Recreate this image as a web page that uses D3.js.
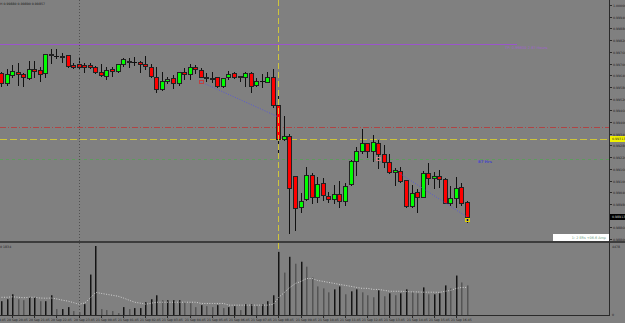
<!DOCTYPE html>
<html>
<head>
<meta charset="utf-8">
<script src="https://cdn.jsdelivr.net/npm/d3@7.9.0/dist/d3.min.js"></script>
<style>
  body { margin: 0; background: #808080; }
  svg { display: block; }
  text { font-family: "DejaVu Sans", sans-serif; }
</style>
</head>
<body>
<svg id="chart" width="625" height="323"></svg>
<script>
// M15 candles, 20 Sep 20:15 .. 21 Sep 17:15
const opens = [0.99652,0.99600,0.99641,0.99657,0.99647,0.99626,0.99672,0.99667,0.99652,0.99749,
  0.99739,0.99734,0.99744,0.99693,0.99698,0.99693,0.99693,0.99682,0.99657,0.99636,
  0.99672,0.99662,0.99698,0.99713,0.99708,0.99708,0.99698,0.99682,0.99631,0.99570,
  0.99611,0.99626,0.99600,0.99657,0.99647,0.99682,0.99667,0.99631,0.99626,0.99631,
  0.99585,0.99631,0.99652,0.99631,0.99631,0.99652,0.99590,0.99611,0.99606,0.99631,
  0.99488,0.99313,0.99329,0.99123,0.98964,0.99005,0.99129,0.99016,0.99088,0.99021,
  0.99005,0.99031,0.98995,0.99082,0.99200,0.99252,0.99293,0.99252,0.99293,0.99236,
  0.99195,0.99144,0.99149,0.99103,0.98970,0.99041,0.99016,0.99139,0.99113,0.99123,
  0.99108,0.98985,0.99011,0.99067,0.98990];
const highs = [0.99657,0.99672,0.99693,0.99703,0.99652,0.99713,0.99713,0.99682,0.99749,0.99775,
  0.99775,0.99754,0.99744,0.99703,0.99729,0.99703,0.99703,0.99688,0.99698,0.99682,
  0.99682,0.99698,0.99729,0.99729,0.99734,0.99713,0.99739,0.99698,0.99682,0.99657,
  0.99631,0.99641,0.99657,0.99677,0.99698,0.99693,0.99677,0.99652,0.99657,0.99631,
  0.99626,0.99662,0.99657,0.99636,0.99657,0.99657,0.99626,0.99647,0.99657,0.99672,
  0.99534,0.99431,0.99339,0.99123,0.99036,0.99170,0.99139,0.99118,0.99113,0.99041,
  0.99077,0.99098,0.99088,0.99206,0.99272,0.99365,0.99293,0.99334,0.99308,0.99282,
  0.99236,0.99165,0.99170,0.99103,0.99077,0.99057,0.99149,0.99190,0.99144,0.99154,
  0.99113,0.99072,0.99118,0.99088,0.98995];
const lows = [0.99585,0.99590,0.99631,0.99590,0.99585,0.99621,0.99631,0.99611,0.99631,0.99703,
  0.99729,0.99708,0.99682,0.99677,0.99672,0.99657,0.99677,0.99652,0.99636,0.99621,
  0.99636,0.99657,0.99688,0.99682,0.99693,0.99657,0.99672,0.99631,0.99554,0.99565,
  0.99600,0.99575,0.99590,0.99621,0.99621,0.99652,0.99631,0.99611,0.99606,0.99580,
  0.99580,0.99621,0.99626,0.99611,0.99585,0.99554,0.99585,0.99580,0.99606,0.99477,
  0.99221,0.99308,0.98831,0.98847,0.98939,0.99000,0.98985,0.98990,0.99000,0.98990,
  0.98985,0.98964,0.98975,0.99077,0.99129,0.99241,0.99221,0.99200,0.99165,0.99170,
  0.99139,0.99077,0.99093,0.98964,0.98964,0.98939,0.99016,0.99082,0.99062,0.99067,
  0.98985,0.98975,0.98964,0.98975,0.98888];
const closes = [0.99600,0.99647,0.99662,0.99647,0.99631,0.99672,0.99662,0.99647,0.99749,0.99744,
  0.99739,0.99739,0.99688,0.99682,0.99682,0.99682,0.99682,0.99657,0.99641,0.99667,
  0.99662,0.99698,0.99723,0.99708,0.99708,0.99698,0.99688,0.99636,0.99570,0.99611,
  0.99621,0.99600,0.99657,0.99647,0.99682,0.99672,0.99631,0.99626,0.99621,0.99585,
  0.99626,0.99647,0.99631,0.99636,0.99652,0.99585,0.99611,0.99611,0.99631,0.99488,
  0.99313,0.99329,0.99062,0.98959,0.98995,0.99129,0.99016,0.99082,0.99026,0.99005,
  0.99031,0.98995,0.99072,0.99200,0.99252,0.99293,0.99252,0.99298,0.99236,0.99195,
  0.99144,0.99154,0.99098,0.98970,0.99036,0.99016,0.99139,0.99113,0.99123,0.99108,
  0.98985,0.99011,0.99062,0.98985,0.98913];
const volumes = [896,1024,1344,1024,960,1152,1152,896,896,1280,
  384,384,512,256,192,704,2624,4478,384,320,
  256,128,512,384,448,448,832,1024,1280,960,
  960,960,960,832,768,512,640,576,512,640,
  448,512,576,320,704,704,576,704,896,1280,
  4096,2752,3776,3328,3456,3136,2432,1856,1728,1472,
  1664,1856,1344,1536,1664,1472,1280,1152,1600,1216,
  1408,1280,1408,1664,1472,1408,1792,1344,1344,1408,
  1920,1728,2560,2112,1920];
const volumeAvg = [1150,1150,1180,1150,1120,1150,1150,1100,1090,1100,
  1040,960,900,800,700,780,1100,1470,1400,1340,
  1280,1220,1100,960,830,770,700,770,830,830,
  830,830,830,830,830,830,750,750,750,750,
  750,640,640,640,640,640,640,640,640,700,
  1150,1470,1790,2050,2180,2370,2370,2240,2180,2110,
  2050,1980,1920,1860,1790,1730,1730,1660,1660,1600,
  1540,1540,1540,1520,1500,1500,1480,1480,1480,1470,
  1540,1600,1730,1790,1790];

const priceTickLabels = ["1.00000","0.99940","0.99880","0.99820","0.99760","0.99700","0.99640",
  "0.99580","0.99520","0.99460","0.99400","0.99340","0.99280","0.99220","0.99160","0.99100",
  "0.99040","0.98980","0.98920","0.98860","0.98800"];
const timeLabelBars = [-2,2,6,10,14,18,22,26,30,34,38,42,46,50,54,58,62,66,70,74,78,82];
const timeLabels = ["20 Sep 19:45","20 Sep 20:45","20 Sep 21:45","20 Sep 22:45","20 Sep 23:45",
  "21 Sep 00:45","21 Sep 01:45","21 Sep 02:45","21 Sep 03:45","21 Sep 04:45","21 Sep 05:45",
  "21 Sep 06:45","21 Sep 07:45","21 Sep 08:45","21 Sep 09:45","21 Sep 10:45","21 Sep 11:45",
  "21 Sep 12:45","21 Sep 13:45","21 Sep 14:45","21 Sep 15:45","21 Sep 16:45"];

const tpLevel = 0.99800, redLevel = 0.99375, entryLevel = 0.99313, greenLevel = 0.99210;
const trendLines = [[36, 0.99606, 50, 0.99426], [72, 0.99134, 84, 0.98913]];
const markers = [[36, 0.99606, "#c04040"], [68, 0.99211, "#d08080"], [84, 0.98895, "#e0d000"]];
const dayLineBar = 14, entryBar = 50;

const svg = d3.select("#chart");
const axisX = 609, sepY = 242, volBottom = 315;
const x = d3.scaleLinear().domain([0, 84]).range([1, 467]);
const y = d3.scaleLinear().domain([0.98800, 1.00000]).range([239, 5]);
const yv = d3.scaleLinear().domain([0, 4478]).range([volBottom, 246]);
const px = i => Math.round(x(i));

svg.append("rect").attr("width", 625).attr("height", 323).attr("fill", "#808080");

svg.append("defs").append("clipPath").attr("id", "main")
  .append("rect").attr("width", axisX).attr("height", sepY);
const main = svg.append("g").attr("clip-path", "url(#main)");

// horizontal levels
const hline = (p, x2, color, dash) => main.append("line")
  .attr("x1", 0).attr("x2", x2)
  .attr("y1", Math.round(y(p)) + 0.5).attr("y2", Math.round(y(p)) + 0.5)
  .attr("stroke", color).attr("stroke-width", 1).attr("stroke-dasharray", dash);
hline(tpLevel, 517, "#9a55cc", null);
hline(redLevel, axisX, "#b04444", "6,2,1,2");
hline(entryLevel, axisX, "#cfc63a", "7,3");
hline(greenLevel, axisX, "#5e9a5e", "3,3");

// vertical lines
svg.append("line").attr("x1", px(dayLineBar) + 0.5).attr("x2", px(dayLineBar) + 0.5)
  .attr("y1", 0).attr("y2", volBottom).attr("stroke", "#505050").attr("stroke-dasharray", "1,2");
svg.append("line").attr("x1", px(entryBar) + 0.5).attr("x2", px(entryBar) + 0.5)
  .attr("y1", 0).attr("y2", volBottom).attr("stroke", "#cfc63a").attr("stroke-dasharray", "6,3");

// candles
const idx = d3.range(opens.length);
main.selectAll("line.wick").data(idx).join("line").attr("class", "wick")
  .attr("x1", i => px(i) + 0.5).attr("x2", i => px(i) + 0.5)
  .attr("y1", i => Math.round(y(highs[i]))).attr("y2", i => Math.round(y(lows[i])) + 1)
  .attr("stroke", "#111").attr("stroke-width", 1);
main.selectAll("rect.body").data(idx.filter(i => Math.round(y(opens[i])) !== Math.round(y(closes[i]))))
  .join("rect").attr("class", "body")
  .attr("x", i => px(i) - 1.5).attr("width", 4)
  .attr("y", i => Math.round(y(Math.max(opens[i], closes[i]))) + 0.5)
  .attr("height", i => Math.abs(Math.round(y(opens[i])) - Math.round(y(closes[i]))))
  .attr("fill", i => closes[i] >= opens[i] ? "#00ff00" : "#ff0000")
  .attr("stroke", "#222").attr("stroke-width", 1);
main.selectAll("line.doji").data(idx.filter(i => Math.round(y(opens[i])) === Math.round(y(closes[i]))))
  .join("line").attr("class", "doji")
  .attr("x1", i => px(i) - 2).attr("x2", i => px(i) + 3)
  .attr("y1", i => Math.round(y(opens[i])) + 0.5).attr("y2", i => Math.round(y(opens[i])) + 0.5)
  .attr("stroke", "#111");

// trend lines
trendLines.forEach(([i1, p1, i2, p2]) => {
  main.append("line").attr("x1", x(i1)).attr("y1", y(p1)).attr("x2", x(i2)).attr("y2", y(p2))
    .attr("stroke", "#5a5ad2").attr("stroke-width", 1).attr("stroke-dasharray", "1,1.5");
});
markers.forEach(([i, p, c]) => {
  main.append("rect").attr("x", px(i) - 1.5).attr("y", Math.round(y(p)) - 1.5)
    .attr("width", 4).attr("height", 3).attr("fill", "none").attr("stroke", c).attr("stroke-width", 1);
});

// annotations
main.append("text").attr("x", 0).attr("y", 5).attr("font-size", 3.2).attr("fill", "#1a1a1a")
  .text("H 0.99880 0.99890 0.99857");
main.append("text").attr("x", 505).attr("y", y(tpLevel) + 4.5).attr("font-size", 3.6).attr("fill", "#a060d0")
  .text("TP: 0.99800  2.87 Hours");
main.append("text").attr("x", 478).attr("y", y(greenLevel) + 3.5).attr("font-size", 3.8)
  .attr("font-weight", "bold").attr("fill", "#4848c8").text("87 Hrs");

// separator and axis lines
svg.append("rect").attr("x", 0).attr("y", sepY - 1).attr("width", 625).attr("height", 2).attr("fill", "#3c3c3c");
svg.append("line").attr("x1", axisX + 0.5).attr("x2", axisX + 0.5).attr("y1", 0).attr("y2", volBottom + 1)
  .attr("stroke", "#2a2a2a");
svg.append("line").attr("x1", 0).attr("x2", axisX + 1).attr("y1", volBottom + 0.5).attr("y2", volBottom + 0.5)
  .attr("stroke", "#2a2a2a");

// price axis
const priceAxis = svg.append("g");
priceTickLabels.forEach(t => {
  const ty = Math.round(y(+t)) + 0.5;
  priceAxis.append("line").attr("x1", axisX).attr("x2", axisX + 3).attr("y1", ty).attr("y2", ty).attr("stroke", "#2a2a2a");
  priceAxis.append("text").attr("x", 613).attr("y", ty + 1.2).attr("font-size", 3.2).attr("fill", "#1e1e1e").text(t);
});
// entry price tag (yellow) and current price tag (black)
const tag = (p, bg, fg) => {
  const ty = Math.round(y(p));
  svg.append("rect").attr("x", axisX + 1).attr("y", ty - 3).attr("width", 16).attr("height", 6).attr("fill", bg);
  svg.append("text").attr("x", 612).attr("y", ty + 1.3).attr("font-size", 3.2).attr("fill", fg).text(p.toFixed(5));
};
tag(entryLevel, "#f0f000", "#303030");
tag(closes[closes.length - 1], "#000000", "#d0d0d0");

// info box
svg.append("rect").attr("x", 553).attr("y", 234).attr("width", 56).attr("height", 7).attr("fill", "#ffffff");
svg.append("text").attr("x", 606).attr("y", 239.3).attr("text-anchor", "end").attr("font-size", 3.4)
  .attr("fill", "#6a9a7a").text("1: 2 ERs +06.6 Amp");

// volume panel
svg.append("text").attr("x", 0).attr("y", 248).attr("font-size", 3.2).attr("fill", "#1e1e1e").text("0 1834");
svg.selectAll("rect.vol").data(idx).join("rect").attr("class", "vol")
  .attr("x", i => px(i)).attr("width", 1.5)
  .attr("y", i => yv(volumes[i])).attr("height", i => volBottom - yv(volumes[i]))
  .attr("fill", i => i > 0 && volumes[i] < volumes[i - 1] ? "#555555" : "#141414");
svg.append("path").datum(idx)
  .attr("d", d3.line().x(i => x(i) + 0.5).y(i => yv(volumeAvg[i])))
  .attr("fill", "none").attr("stroke", "#e6e6e6").attr("stroke-width", 0.8).attr("stroke-dasharray", "1,1.5");
svg.append("text").attr("x", 612).attr("y", 248).attr("font-size", 3.2).attr("fill", "#1e1e1e").text("4478");
svg.append("text").attr("x", 612).attr("y", 316).attr("font-size", 3.2).attr("fill", "#1e1e1e").text("0");

// time axis
timeLabelBars.forEach((b, k) => {
  const tx = Math.round(x(b));
  svg.append("line").attr("x1", tx + 0.5).attr("x2", tx + 0.5).attr("y1", volBottom).attr("y2", volBottom + 3).attr("stroke", "#2a2a2a");
  svg.append("text").attr("x", tx - 5).attr("y", 320.5).attr("font-size", 3.1).attr("fill", "#1e1e1e").text(timeLabels[k]);
});
</script>
</body>
</html>
